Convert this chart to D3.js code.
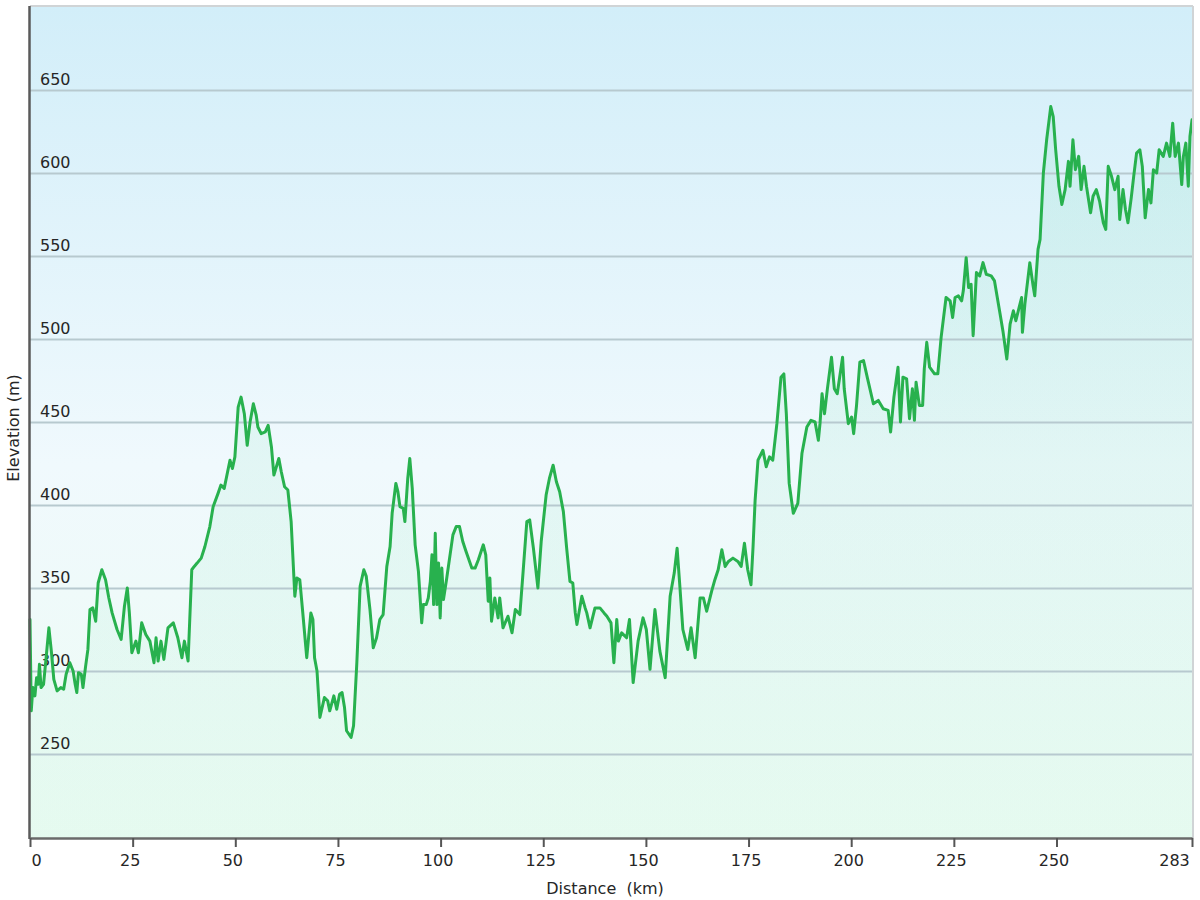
<!DOCTYPE html>
<html>
<head>
<meta charset="utf-8">
<script src="https://cdn.jsdelivr.net/npm/d3@7"></script>
<style>
  html, body { margin: 0; padding: 0; background: #ffffff; }
  svg { display: block; }
  text { font-family: "DejaVu Sans", Verdana, sans-serif; fill: #262626; }
</style>
</head>
<body>
<svg id="chart" width="1200" height="900"></svg>
<script>
// ---- Data ----
const distanceKm = [
  0, 0.3, 0.7, 1.2, 1.6, 2.0, 2.3, 2.7, 3.3, 4.0, 4.6, 5.2, 5.8, 6.6, 7.5, 8.2, 8.8, 9.7, 10.5, 11.0,
  11.4, 11.8, 12.5, 12.9, 13.5, 14.1, 14.6, 15.3, 16.0, 16.6, 17.5, 18.4, 19.2, 20.0, 21.2, 22.2, 23.0, 23.7, 24.2, 24.8,
  25.8, 26.4, 27.2, 28.2, 29.2, 30.2, 30.7, 31.2, 31.9, 32.6, 33.6, 34.9, 36.0, 37.0, 37.6, 38.5, 39.4, 40.0, 40.7, 41.7,
  42.6, 43.8, 44.6, 45.8, 46.5, 47.3, 48.7, 49.3, 49.9, 50.7, 51.4, 52.2, 52.9, 53.6, 54.4, 55.1, 55.5, 56.3, 57.3, 58.0,
  58.8, 59.4, 60.6, 61.2, 62.0, 62.8, 63.6, 64.5, 65.0, 65.7, 66.4, 67.4, 68.4, 68.9, 69.3, 69.9, 70.6, 71.7, 72.5, 73.0,
  74.0, 74.7, 75.4, 76.0, 76.6, 77.1, 78.2, 78.8, 79.6, 80.4, 81.3, 81.9, 82.8, 83.6, 84.4, 85.2, 86.0, 86.9, 87.7, 88.2,
  89.1, 89.6, 90.1, 90.9, 91.3, 92.0, 92.5, 93.1, 93.8, 94.6, 95.4, 95.8, 96.5, 97.0, 97.5, 97.9, 98.3, 98.7, 99.1, 99.5,
  99.9, 100.3, 100.7, 101.5, 103.0, 103.8, 104.6, 105.4, 106.2, 107.6, 108.4, 109.2, 110.4, 111.0, 111.6, 112.0, 112.4, 113.2, 114.0, 114.4,
  115.2, 116.4, 117.4, 118.2, 119.3, 120.1, 121.0, 121.7, 122.6, 123.7, 124.5, 125.7, 126.5, 127.4, 128.2, 129.0, 129.9, 130.7, 131.5, 132.2,
  132.8, 133.2, 134.4, 135.2, 135.6, 136.4, 137.6, 138.8, 139.8, 140.5, 141.5, 142.2, 142.9, 143.3, 144.1, 145.3, 146.0, 146.9, 148.1, 149.3,
  150.1, 151.0, 152.2, 153.4, 154.7, 155.9, 156.9, 157.6, 158.3, 159.0, 160.2, 161.0, 162.0, 163.2, 164.0, 164.8, 166.0, 166.8, 167.6, 168.5,
  169.3, 170.1, 171.2, 172.4, 173.2, 174.0, 174.8, 175.6, 176.1, 176.6, 177.3, 178.5, 179.3, 180.1, 180.9, 181.9, 182.9, 183.6, 184.2, 184.9,
  185.9, 187.0, 188.0, 189.2, 190.2, 191.2, 192.0, 192.4, 192.9, 193.5, 194.2, 195.2, 195.9, 196.6, 197.9, 198.3, 199.3, 200.1, 200.6, 201.3,
  202.1, 203.0, 204.0, 205.4, 206.6, 207.8, 209.0, 209.6, 210.4, 211.4, 212.0, 212.6, 213.5, 214.2, 214.9, 215.4, 215.8, 216.6, 217.4, 217.8,
  218.4, 219.1, 220.3, 221.1, 221.9, 223.1, 224.1, 224.7, 225.3, 226.1, 226.9, 227.3, 228.0, 228.6, 229.2, 229.7, 230.5, 231.3, 232.1, 232.9,
  234.1, 234.9, 236.2, 237.0, 237.9, 238.7, 239.5, 240.1, 240.9, 241.5, 241.7, 242.3, 243.5, 244.3, 244.7, 245.5, 246.0, 246.8, 247.6, 248.6,
  249.2, 249.8, 250.6, 251.3, 252.1, 252.9, 253.3, 254.0, 254.6, 255.4, 256.0, 256.7, 257.3, 257.8, 258.3, 258.9, 259.7, 260.5, 261.4, 262.0,
  262.6, 263.4, 264.2, 265.0, 265.4, 266.2, 266.8, 267.4, 268.2, 268.8, 269.5, 270.3, 270.9, 271.6, 272.4, 273.0, 273.6, 274.4, 275.0, 276.0,
  276.8, 277.6, 278.3, 278.9, 279.7, 280.5, 280.9, 281.5, 282.1, 282.5, 283.0
];
const elevationM = [
  331, 276, 290, 285, 296, 292, 304, 290, 292, 310, 326, 312, 295, 288, 290, 289, 298, 305, 300, 292,
  287, 299, 298, 290, 302, 313, 337, 338, 330, 353, 361, 355, 344, 335, 325, 319, 339, 350, 335, 311,
  318, 311, 329, 322, 318, 305, 320, 306, 318, 307, 326, 329, 320, 308, 318, 306, 361, 363, 365, 368,
  375, 387, 399, 407, 412, 410, 427, 422, 429, 459, 465, 455, 436, 450, 461, 454, 447, 443, 444, 448,
  435, 418, 428, 420, 411, 409, 390, 345, 356, 355, 336, 308, 335, 331, 308, 300, 272, 284, 282, 276,
  285, 277, 286, 287, 278, 264, 260, 267, 305, 351, 361, 357, 337, 314, 320, 331, 334, 363, 375, 395,
  413, 408, 399, 398, 390, 416, 428, 410, 376, 360, 329, 340, 340, 344, 354, 370, 340, 383, 340, 365,
  332, 362, 343, 356, 382, 387, 387, 378, 372, 362, 362, 367, 376, 370, 342, 356, 330, 344, 332, 344,
  326, 333, 323, 337, 334, 360, 390, 391, 374, 350, 378, 406, 416, 424, 414, 408, 396, 374, 354, 353,
  335, 328, 345, 338, 335, 326, 338, 338, 335, 333, 329, 305, 331, 318, 323, 320, 331, 293, 318, 332,
  325, 301, 337, 312, 296, 345, 359, 374, 350, 325, 313, 326, 308, 344, 344, 336, 348, 355, 361, 373,
  363, 366, 368, 366, 363, 377, 361, 352, 375, 403, 427, 433, 423, 429, 427, 449, 477, 479, 455, 413,
  395, 401, 431, 447, 451, 450, 439, 449, 467, 455, 470, 489, 470, 467, 489, 470, 449, 453, 443, 460,
  486, 487, 476, 461, 463, 458, 457, 444, 465, 483, 450, 477, 476, 452, 470, 451, 474, 460, 460, 482,
  498, 483, 479, 479, 501, 525, 523, 513, 525, 526, 523, 529, 549, 531, 533, 502, 540, 538, 546, 539,
  538, 535, 516, 504, 488, 509, 517, 511, 519, 525, 504, 521, 546, 532, 526, 554, 560, 600, 620, 640,
  634, 614, 592, 581, 590, 607, 592, 620, 602, 610, 590, 604, 592, 584, 576, 586, 590, 583, 570, 566,
  604, 598, 590, 598, 572, 590, 578, 570, 585, 598, 612, 614, 604, 573, 590, 582, 602, 600, 614, 610,
  618, 610, 630, 610, 618, 593, 610, 618, 592, 622, 632
];
const yTickValues = [250, 300, 350, 400, 450, 500, 550, 600, 650];
const xTickValues = [0, 25, 50, 75, 100, 125, 150, 175, 200, 225, 250, 283];
const xTitle = "Distance  (km)";
const yTitle = "Elevation (m)";

(function draw() {
  const profile = distanceKm.map((d, i) => ({ km: d, elev: elevationM[i] }));

  const svg = d3.select("#chart");
  const pLeft = 30, pRight = 1192, pTop = 6, pBottom = 838;

  const x = d3.scaleLinear().domain([0, 283]).range([pLeft, pRight]);
  const y = d3.scaleLinear().domain([200, 700]).range([837, 7]);

  const defs = svg.append("defs");
  const bg = defs.append("linearGradient").attr("id", "bgGrad")
    .attr("x1", 0).attr("y1", 0).attr("x2", 0).attr("y2", 1);
  bg.append("stop").attr("offset", "0%").attr("stop-color", "#d2eef9");
  bg.append("stop").attr("offset", "55%").attr("stop-color", "#f0f9fd");
  bg.append("stop").attr("offset", "100%").attr("stop-color", "#edfcf4");

  const areaGrad = defs.append("linearGradient").attr("id", "areaGrad")
    .attr("gradientUnits", "userSpaceOnUse")
    .attr("x1", 0).attr("y1", pTop).attr("x2", 0).attr("y2", pBottom);
  areaGrad.append("stop").attr("offset", "0%").attr("stop-color", "#4fd0a0").attr("stop-opacity", 0.14);
  areaGrad.append("stop").attr("offset", "100%").attr("stop-color", "#6ee0a8").attr("stop-opacity", 0.06);

  svg.append("rect")
    .attr("x", pLeft).attr("y", pTop)
    .attr("width", pRight - pLeft).attr("height", pBottom - pTop)
    .attr("fill", "url(#bgGrad)");

  const area = d3.area()
    .x(d => x(d.km))
    .y0(pBottom)
    .y1(d => y(d.elev));
  svg.append("path")
    .datum(profile)
    .attr("d", area)
    .attr("fill", "url(#areaGrad)");

  const yAxisGrid = d3.axisLeft(y).tickValues(yTickValues).tickSize(-(pRight - pLeft)).tickFormat("");
  const gGrid = svg.append("g").attr("transform", `translate(${pLeft},0)`).call(yAxisGrid);
  gGrid.select(".domain").remove();
  gGrid.selectAll(".tick line").attr("stroke", "#b7c9cf").attr("stroke-width", 2);

  svg.append("g").selectAll("text")
    .data(yTickValues)
    .join("text")
    .attr("x", pLeft + 10)
    .attr("y", d => y(d) - 5)
    .attr("font-size", 16)
    .text(d => d);

  const line = d3.line()
    .x(d => x(d.km))
    .y(d => y(d.elev));
  svg.append("path")
    .datum(profile)
    .attr("d", line)
    .attr("fill", "none")
    .attr("stroke", "#28b14e")
    .attr("stroke-width", 3)
    .attr("stroke-linejoin", "round")
    .attr("stroke-linecap", "round");

  svg.append("line").attr("x1", pLeft).attr("x2", pRight + 1).attr("y1", pTop).attr("y2", pTop)
    .attr("stroke", "#d0d4d6").attr("stroke-width", 2);
  svg.append("line").attr("x1", pRight + 1).attr("x2", pRight + 1).attr("y1", pTop).attr("y2", pBottom)
    .attr("stroke", "#d0d4d6").attr("stroke-width", 2);

  const xAxis = d3.axisBottom(x).tickValues(xTickValues).tickSize(9).tickSizeOuter(0).tickFormat(d => d);
  const gx = svg.append("g").attr("transform", `translate(0,${pBottom})`).call(xAxis);
  gx.select(".domain").attr("stroke", "#6a6a6a").attr("stroke-width", 2.5);
  gx.selectAll(".tick line").attr("stroke", "#555").attr("stroke-width", 2);
  gx.selectAll(".tick text")
    .attr("font-size", 16)
    .attr("font-family", "DejaVu Sans, Verdana, sans-serif")
    .attr("fill", "#262626")
    .attr("y", 17)
    .attr("dy", "0.71em")
    .attr("dx", d => d === 0 ? 6 : (d === 283 ? -18 : -3));

  svg.append("line").attr("x1", pLeft - 0.5).attr("x2", pLeft - 0.5).attr("y1", pTop).attr("y2", pBottom + 1)
    .attr("stroke", "#5a5a5a").attr("stroke-width", 2.5);

  svg.append("text")
    .attr("x", 605).attr("y", 894)
    .attr("text-anchor", "middle")
    .attr("font-size", 16)
    .style("white-space", "pre")
    .text(xTitle);

  svg.append("text")
    .attr("transform", "translate(19,428) rotate(-90)")
    .attr("text-anchor", "middle")
    .attr("font-size", 16)
    .text(yTitle);
})();
</script>
</body>
</html>
